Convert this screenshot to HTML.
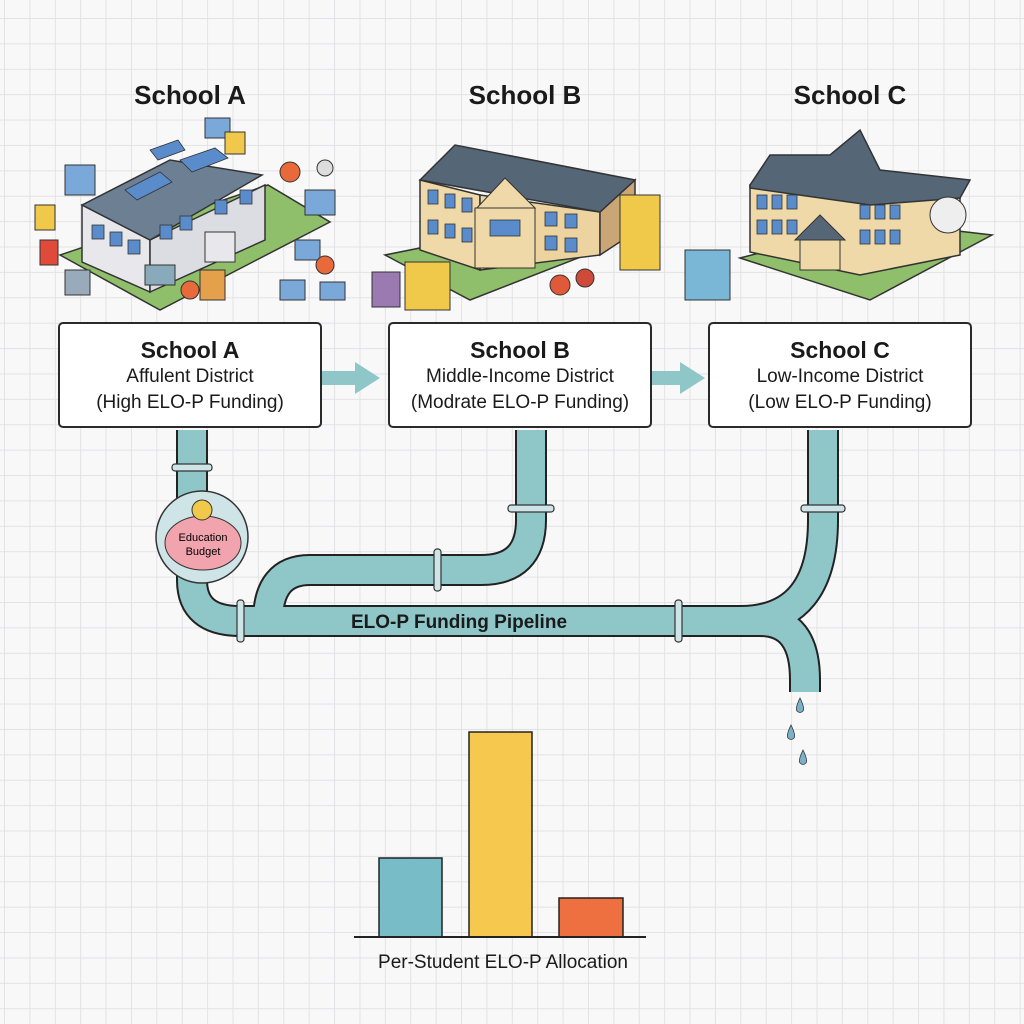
<!DOCTYPE html>
<html><head><meta charset="utf-8"><style>
html,body{margin:0;padding:0}
body{width:1024px;height:1024px;position:relative;overflow:hidden;background-color:#f8f8f8;
background-image:linear-gradient(#e3e3e6 1px,transparent 1px),linear-gradient(90deg,#e3e3e6 1px,transparent 1px);
background-size:25.4px 25.4px;background-position:4px 18px;font-family:"Liberation Sans",sans-serif;color:#1a1a1a}
.t{position:absolute;font-weight:bold;font-size:26px;text-align:center;width:240px}
.box{position:absolute;top:322px;height:106px;background:#fff;border:2px solid #2a2a2a;border-radius:5px;text-align:center;box-sizing:border-box}
.box b{display:block;font-size:23px;margin-top:13px}
.box span{display:block;font-size:19px;line-height:26px}
</style></head><body>
<div class="t" style="left:70px;top:80px">School A</div>
<div class="t" style="left:405px;top:80px">School B</div>
<div class="t" style="left:730px;top:80px">School C</div>

<svg width="1024" height="1024" style="position:absolute;left:0;top:0">
<!-- School A -->
<polygon points="60,255 160,310 330,222 268,185" fill="#8fbf6a" stroke="#333" stroke-width="1.5"/>
<polygon points="82,205 150,240 150,292 82,262" fill="#e8e8ec" stroke="#333" stroke-width="1.5"/>
<polygon points="150,240 265,185 265,240 150,292" fill="#dcdde2" stroke="#333" stroke-width="1.5"/>
<polygon points="82,205 170,160 262,175 150,240" fill="#6d7f93" stroke="#333" stroke-width="1.5"/>
<rect x="205" y="232" width="30" height="30" fill="#e8e8ec" stroke="#333"/>
<g fill="#5a8ccc" stroke="#333" stroke-width="0.8">
<rect x="92" y="225" width="12" height="14"/><rect x="110" y="232" width="12" height="14"/><rect x="128" y="240" width="12" height="14"/>
<rect x="160" y="225" width="12" height="14"/><rect x="180" y="216" width="12" height="14"/><rect x="215" y="200" width="12" height="14"/><rect x="240" y="190" width="12" height="14"/>
<polygon points="125,190 160,172 172,182 137,200"/><polygon points="180,160 215,148 228,158 192,172"/><polygon points="150,150 178,140 185,150 158,160"/>
</g>
<g stroke="#333" stroke-width="1">
<rect x="65" y="165" width="30" height="30" fill="#7aa8d8"/><rect x="35" y="205" width="20" height="25" fill="#f0c94a"/><rect x="40" y="240" width="18" height="25" fill="#e04a3a"/>
<rect x="65" y="270" width="25" height="25" fill="#9ab"/><rect x="205" y="118" width="25" height="20" fill="#7aa8d8"/><rect x="225" y="132" width="20" height="22" fill="#f0c94a"/>
<circle cx="290" cy="172" r="10" fill="#e86a3a"/><circle cx="325" cy="168" r="8" fill="#ddd"/><rect x="305" y="190" width="30" height="25" fill="#7aa8d8"/>
<rect x="295" y="240" width="25" height="20" fill="#7aa8d8"/><circle cx="325" cy="265" r="9" fill="#e86a3a"/><rect x="280" y="280" width="25" height="20" fill="#7aa8d8"/><rect x="320" y="282" width="25" height="18" fill="#7aa8d8"/>
<rect x="200" y="270" width="25" height="30" fill="#e4a04a"/><circle cx="190" cy="290" r="9" fill="#e86a3a"/><rect x="145" y="265" width="30" height="20" fill="#8ab"/>
</g>
<!-- School B -->
<polygon points="385,255 470,300 645,232 600,212" fill="#8fbf6a" stroke="#333" stroke-width="1.5"/>
<polygon points="420,180 480,195 480,270 420,250" fill="#f0d9a8" stroke="#333" stroke-width="1.5"/>
<polygon points="480,195 600,212 600,255 480,270" fill="#ecd3a0" stroke="#333" stroke-width="1.5"/>
<polygon points="600,212 635,180 635,232 600,255" fill="#caa676" stroke="#333" stroke-width="1.5"/>
<polygon points="420,180 455,145 635,180 600,212" fill="#556676" stroke="#333" stroke-width="1.5"/>
<polygon points="475,210 505,178 535,208" fill="#f0d9a8" stroke="#333"/>
<rect x="475" y="208" width="60" height="60" fill="#f0d9a8" stroke="#333"/>
<g fill="#5a8ccc" stroke="#333" stroke-width="0.8">
<rect x="428" y="190" width="10" height="14"/><rect x="445" y="194" width="10" height="14"/><rect x="462" y="198" width="10" height="14"/>
<rect x="428" y="220" width="10" height="14"/><rect x="445" y="224" width="10" height="14"/><rect x="462" y="228" width="10" height="14"/>
<rect x="490" y="220" width="30" height="16"/><rect x="545" y="212" width="12" height="14"/><rect x="565" y="214" width="12" height="14"/><rect x="545" y="236" width="12" height="14"/><rect x="565" y="238" width="12" height="14"/>
</g>
<rect x="620" y="195" width="40" height="75" fill="#f0c94a" stroke="#333"/>
<rect x="405" y="262" width="45" height="48" fill="#f0c94a" stroke="#333"/>
<rect x="372" y="272" width="28" height="35" fill="#9a7ab0" stroke="#333"/>
<circle cx="560" cy="285" r="10" fill="#e05a3a" stroke="#333"/><circle cx="585" cy="278" r="9" fill="#d04a3a" stroke="#333"/>
<!-- School C -->
<polygon points="740,258 870,300 992,235 880,222" fill="#8fbf6a" stroke="#333" stroke-width="1.5"/>
<polygon points="750,185 960,195 960,255 860,275 750,252" fill="#f0d9a8" stroke="#333" stroke-width="1.5"/>
<polygon points="750,185 770,155 830,155 860,130 880,170 970,180 960,198 870,205 750,188" fill="#556676" stroke="#333" stroke-width="1.5"/>
<polygon points="795,240 820,215 845,240" fill="#556676" stroke="#333"/>
<rect x="800" y="240" width="40" height="30" fill="#f0d9a8" stroke="#333"/>
<g fill="#5a8ccc" stroke="#333" stroke-width="0.8">
<rect x="757" y="195" width="10" height="14"/><rect x="772" y="195" width="10" height="14"/><rect x="787" y="195" width="10" height="14"/>
<rect x="757" y="220" width="10" height="14"/><rect x="772" y="220" width="10" height="14"/><rect x="787" y="220" width="10" height="14"/>
<rect x="860" y="205" width="10" height="14"/><rect x="875" y="205" width="10" height="14"/><rect x="890" y="205" width="10" height="14"/>
<rect x="860" y="230" width="10" height="14"/><rect x="875" y="230" width="10" height="14"/><rect x="890" y="230" width="10" height="14"/>
</g>
<circle cx="948" cy="215" r="18" fill="#eee" stroke="#333"/>
<rect x="685" y="250" width="45" height="50" fill="#7ab6d6" stroke="#333"/>

<!-- arrows -->
<polygon points="322,371 355,371 355,362 380,378 355,394 355,385 322,385" fill="#8fc7c9"/>
<polygon points="652,371 680,371 680,362 705,378 680,394 680,385 652,385" fill="#8fc7c9"/>

<!-- pipes -->
<g fill="none" stroke-linejoin="round">
<path d="M531,430 V520 Q531,570 481,570 H310 Q268,570 268,621" stroke="#222" stroke-width="32"/>
<path d="M823,430 V520 Q823,621 740,621" stroke="#222" stroke-width="32"/>
<path d="M192,430 V580 Q192,621 240,621 H760 Q805,621 805,680 V692" stroke="#222" stroke-width="32"/>
<path d="M531,430 V520 Q531,570 481,570 H310 Q268,570 268,621" stroke="#8fc7c9" stroke-width="28"/>
<path d="M823,430 V520 Q823,621 740,621" stroke="#8fc7c9" stroke-width="28"/>
<path d="M192,430 V580 Q192,621 240,621 H760 Q805,621 805,680 V692" stroke="#8fc7c9" stroke-width="28"/>
</g>
<g fill="#cfe4e6" stroke="#333" stroke-width="1.2">
<rect x="172" y="464" width="40" height="7" rx="3"/><rect x="508" y="505" width="46" height="7" rx="3"/><rect x="801" y="505" width="44" height="7" rx="3"/>
<rect x="237" y="600" width="7" height="42" rx="3"/><rect x="675" y="600" width="7" height="42" rx="3"/><rect x="434" y="549" width="7" height="42" rx="3"/>
</g>
<circle cx="202" cy="537" r="46" fill="#cfe4e6" stroke="#333" stroke-width="1.5"/>
<ellipse cx="203" cy="543" rx="38" ry="27" fill="#f2a4ae" stroke="#333"/>
<circle cx="202" cy="510" r="10" fill="#f0c94a" stroke="#333"/>
<text x="203" y="541" font-size="11" text-anchor="middle" font-family="Liberation Sans">Education</text>
<text x="203" y="555" font-size="11" text-anchor="middle" font-family="Liberation Sans">Budget</text>
<text x="459" y="628" font-size="19" font-weight="bold" text-anchor="middle" font-family="Liberation Sans" fill="#1a1a1a">ELO-P Funding Pipeline</text>
<g fill="#7ab0c8" stroke="#333" stroke-width="0.8">
<path d="M800,698 Q795,708 797,711 Q800,714 803,711 Q805,708 800,698z"/>
<path d="M791,725 Q786,735 788,738 Q791,741 794,738 Q796,735 791,725z"/>
<path d="M803,750 Q798,760 800,763 Q803,766 806,763 Q808,760 803,750z"/>
</g>
<!-- chart -->
<rect x="379" y="858" width="63" height="79" fill="#78bcc8" stroke="#222" stroke-width="1.5"/>
<rect x="469" y="732" width="63" height="205" fill="#f6c84e" stroke="#222" stroke-width="1.5"/>
<rect x="559" y="898" width="64" height="39" fill="#ee7040" stroke="#222" stroke-width="1.5"/>
<line x1="354" y1="937" x2="646" y2="937" stroke="#222" stroke-width="2"/>
<text x="503" y="968" font-size="19" text-anchor="middle" font-family="Liberation Sans" fill="#1a1a1a">Per-Student ELO-P Allocation</text>
</svg>

<div class="box" style="left:58px;width:264px"><b>School A</b><span>Affulent District</span><span>(High ELO-P Funding)</span></div>
<div class="box" style="left:388px;width:264px"><b>School B</b><span>Middle-Income District</span><span>(Modrate ELO-P Funding)</span></div>
<div class="box" style="left:708px;width:264px"><b>School C</b><span>Low-Income District</span><span>(Low ELO-P Funding)</span></div>
</body></html>
